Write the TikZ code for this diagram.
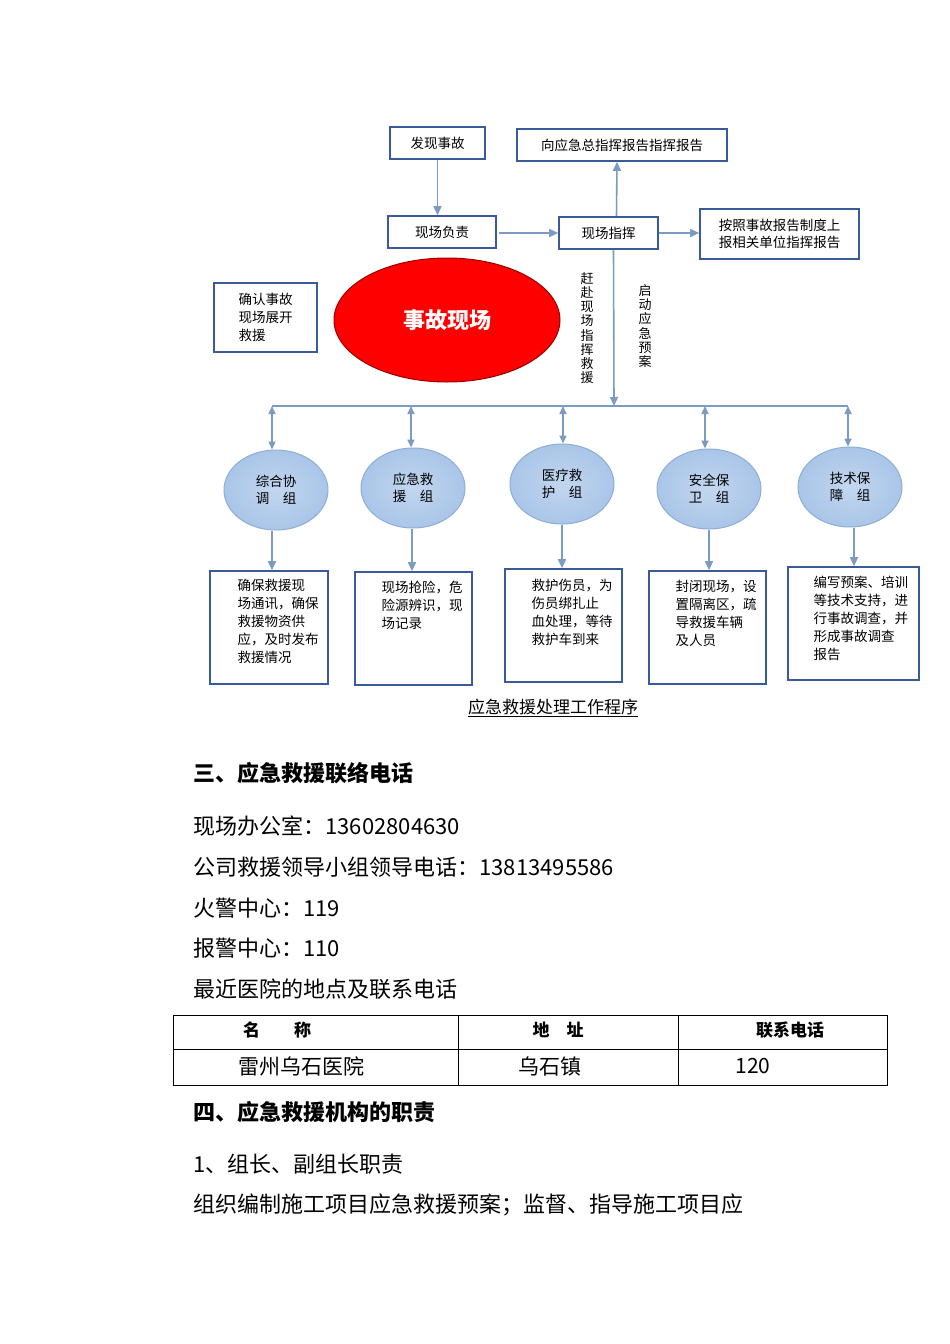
\documentclass[tikz,border=0pt]{standalone}
\usepackage{fontspec}
\setmainfont{Noto Sans CJK SC}
\usetikzlibrary{arrows.meta,shapes.geometric}
\definecolor{bx}{HTML}{3B5A9A}
\definecolor{ar}{HTML}{7B9CC0}
\definecolor{cf}{HTML}{A9C5E8}
\definecolor{cd}{HTML}{8FAED3}
\tikzset{
 bbox/.style={draw=bx,line width=1.6pt,fill=white,inner sep=0pt},
 conn/.style={draw=ar,line width=1.6pt,-{Triangle[length=9pt,width=8pt]}},
 dconn/.style={draw=ar,line width=1.6pt,{Triangle[length=8pt,width=7pt]}-{Triangle[length=8pt,width=7pt]}},
 grp/.style={ellipse,draw=cd,line width=1pt,inner color=cf!70,outer color=cf,minimum width=104pt,minimum height=80pt,font=\fontsize{13.5}{17}\selectfont,align=center},
 txt/.style={font=\fontsize{13.5}{18}\selectfont,align=left,anchor=north west},
 body/.style={anchor=west,font=\fontsize{22}{24}\selectfont},
 head/.style={anchor=west,font=\fontsize{22}{24}\selectfont\bfseries}
}
\begin{document}
\begin{tikzpicture}[x=1pt,y=-1pt]
\useasboundingbox[fill=white] (0,0) rectangle (950,1344);
% top boxes
\node[bbox,minimum width=95pt,minimum height=32pt,font=\fontsize{13.5}{16}\selectfont] (fx) at (437.5,143) {发现事故};
\node[bbox,minimum width=210pt,minimum height=32pt,font=\fontsize{13.5}{16}\selectfont] (xy) at (622,145) {向应急总指挥报告指挥报告};
\node[bbox,minimum width=108pt,minimum height=32pt,font=\fontsize{13.5}{16}\selectfont] (fz) at (442,232) {现场负责};
\node[bbox,minimum width=99pt,minimum height=32pt,font=\fontsize{13.5}{16}\selectfont] (zh) at (608.5,233) {现场指挥};
\node[bbox,minimum width=159pt,minimum height=50pt,font=\fontsize{13.5}{17}\selectfont,align=left] (az) at (779.5,234) {按照事故报告制度上\\报相关单位指挥报告};
\node[bbox,minimum width=103pt,minimum height=69pt,font=\fontsize{13.5}{18}\selectfont,align=left] (qr) at (265.5,317.5) {确认事故\\现场展开\\救援};
\node[ellipse,fill=red,draw=red!60!black,line width=1pt,minimum width=226pt,minimum height=124pt,text=white,font=\fontsize{22}{24}\selectfont\bfseries] (sg) at (447,320) {事故现场};
\node[font=\fontsize{13}{14.2}\selectfont,align=center] (v1) at (587,328) {赶\\赴\\现\\场\\指\\挥\\救\\援};
\node[font=\fontsize{13}{14.2}\selectfont,align=center] (v2) at (645,326) {启\\动\\应\\急\\预\\案};
% connectors
\draw[conn] (fx.south) -- (fz.north -| fx.south);
\draw[conn] ([xshift=2pt]fz.east |- zh.west) -- (zh.west);
\draw[conn] (zh.east) -- (az.west |- zh.east);
\draw[conn] ([xshift=8pt]zh.north) -- ([xshift=-5pt]xy.south);
\coordinate (busc) at (614,406);
\coordinate (busl) at (272,406);
\coordinate (busr) at (848,406);
\draw[conn] ([xshift=5pt]zh.south) -- (busc);
\draw[draw=ar,line width=1.6pt] (busl) -- (busr);
% groups
\node[grp] (g1) at (276,490) {综合协\\调\quad 组};
\node[grp] (g2) at (413,488) {应急救\\援\quad 组};
\node[grp] (g3) at (562,484) {医疗救\\护\quad 组};
\node[grp] (g4) at (709,489) {安全保\\卫\quad 组};
\node[grp] (g5) at (850,487) {技术保\\障\quad 组};
\foreach \g/\x in {g1/272,g2/411,g3/563,g4/705,g5/848}{
 \coordinate (t\g) at (\x,406);
 \draw[dconn] (t\g) -- (\g.north -| t\g);
}
% boxes
\node[bbox,minimum width=118pt,minimum height=113pt] (b1) at (269,627.5) {};
\node[bbox,minimum width=117pt,minimum height=113pt] (b2) at (413.5,628.5) {};
\node[bbox,minimum width=117pt,minimum height=113pt] (b3) at (563.5,625.5) {};
\node[bbox,minimum width=117pt,minimum height=113pt] (b4) at (707.5,627.5) {};
\node[bbox,minimum width=131pt,minimum height=113pt] (b5) at (853.5,623.5) {};
\foreach \i/\x in {1/272,2/412,3/562,4/709,5/854}{
 \draw[conn] (g\i.south -| \x,0) -- (b\i.north -| \x,0);
}
\node[txt] at (234,576) {确保救援现\\场通讯，确保\\救援物资供\\应，及时发布\\救援情况};
\node[txt] at (378,578) {现场抢险，危\\险源辨识，现\\场记录};
\node[txt] at (528,576) {救护伤员，为\\伤员绑扎止\\血处理，等待\\救护车到来};
\node[txt] at (672,577) {封闭现场，设\\置隔离区，疏\\导救援车辆\\及人员};
\node[txt] at (810,573) {编写预案、培训\\等技术支持，进\\行事故调查，并\\形成事故调查\\报告};
\node[font=\fontsize{17}{18}\selectfont] (cap) at (553,708) {\underline{应急救援处理工作程序}};
% text
\node[head] (h3) at (190,773) {三、应急救援联络电话};
\node[body] (l1) at (190,826) {现场办公室：13602804630};
\node[body] (l2) at (190,867) {公司救援领导小组领导电话：13813495586};
\node[body] (l3) at (190,908) {火警中心：119};
\node[body] (l4) at (190,948) {报警中心：110};
\node[body] (l5) at (190,989) {最近医院的地点及联系电话};
\draw[line width=0.8pt] (173,1015) rectangle (887,1085);
\draw[line width=0.8pt] (173,1049) -- (887,1049);
\draw[line width=0.8pt] (458,1015) -- (458,1085) (678,1015) -- (678,1085);
\node[font=\fontsize{17}{20}\selectfont\bfseries] (c1) at (277,1030) {名\qquad 称};
\node[font=\fontsize{17}{20}\selectfont\bfseries] (c2) at (558,1030) {地\quad 址};
\node[font=\fontsize{17}{20}\selectfont\bfseries] (c3) at (790,1030) {联系电话};
\node[font=\fontsize{21}{22}\selectfont] (d1) at (301,1066) {雷州乌石医院};
\node[font=\fontsize{21}{22}\selectfont] (d2) at (550,1066) {乌石镇};
\node[font=\fontsize{21}{22}\selectfont] (d3) at (753,1066) {120};
\node[head] (h4) at (190,1112) {四、应急救援机构的职责};
\node[body] (m1) at (190,1164) {1、组长、副组长职责};
\node[body] (m2) at (190,1205) {组织编制施工项目应急救援预案；监督、指导施工项目应};
\end{tikzpicture}
\end{document}
